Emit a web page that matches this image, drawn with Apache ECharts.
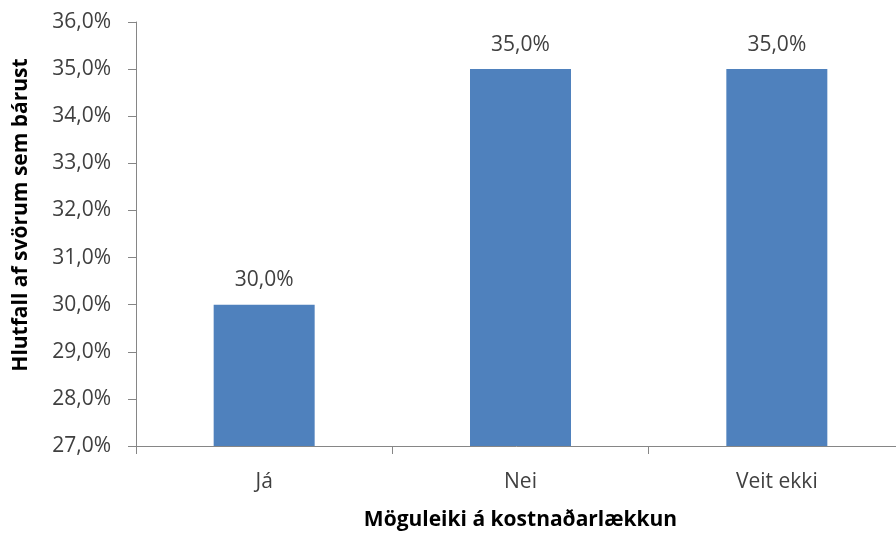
<!DOCTYPE html>
<html>
<head>
<meta charset="utf-8">
<script src="https://cdn.jsdelivr.net/npm/echarts@6/dist/echarts.min.js"></script>
<style>
  html, body { margin: 0; padding: 0; background: #fff; }
  #chart { width: 896px; height: 536px; }
</style>
</head>
<body>
<div id="chart"></div>
<script>
// Svör við spurningu um möguleika á kostnaðarlækkun
const categories = ['Já', 'Nei', 'Veit ekki'];
const values = [30.0, 35.0, 35.0];
const yMin = 27;
const yMax = 36;
const yStep = 1;

const fmt = v => v.toFixed(1).replace('.', ',') + '%';
const FONT = 'Open Sans';
const TEXT = '#404040';
const AXIS = '#868686';

const chart = echarts.init(document.getElementById('chart'), null, { renderer: 'canvas' });
chart.setOption({
  animation: false,
  backgroundColor: '#ffffff',
  grid: {
    left: 136, top: 22, width: 769, height: 424,
    containLabel: false,
    outerBoundsMode: 'none'
  },
  xAxis: {
    type: 'category',
    data: categories,
    name: 'Möguleiki á kostnaðarlækkun',
    nameLocation: 'middle',
    nameGap: 64,
    nameTextStyle: { fontFamily: FONT, fontWeight: 'bold', fontSize: 21, color: '#000' },
    axisLine: { lineStyle: { color: AXIS, width: 1 } },
    axisTick: { show: true, length: 8, lineStyle: { color: AXIS } },
    axisLabel: { fontFamily: FONT, fontSize: 21, color: TEXT, margin: 26 }
  },
  yAxis: {
    type: 'value',
    min: yMin,
    max: yMax,
    interval: yStep,
    name: 'Hlutfall af svörum sem bárust',
    nameLocation: 'middle',
    nameGap: 104,
    nameTextStyle: {
      fontFamily: FONT, fontWeight: 'bold', fontSize: 21, color: '#000',
      padding: [0, 0, 0, 38]
    },
    axisLine: { show: true, lineStyle: { color: AXIS, width: 1 } },
    axisTick: { show: true, length: 8, lineStyle: { color: AXIS } },
    splitLine: { show: false },
    axisLabel: { fontFamily: FONT, fontSize: 21, color: TEXT, margin: 25, formatter: v => fmt(v) }
  },
  series: [{
    type: 'bar',
    data: values,
    barWidth: 101,
    itemStyle: { color: '#4F81BD' },
    label: {
      show: true,
      position: 'top',
      distance: 14,
      fontFamily: FONT,
      fontSize: 21,
      color: TEXT,
      formatter: p => fmt(p.value)
    }
  }]
});
</script>
</body>
</html>
